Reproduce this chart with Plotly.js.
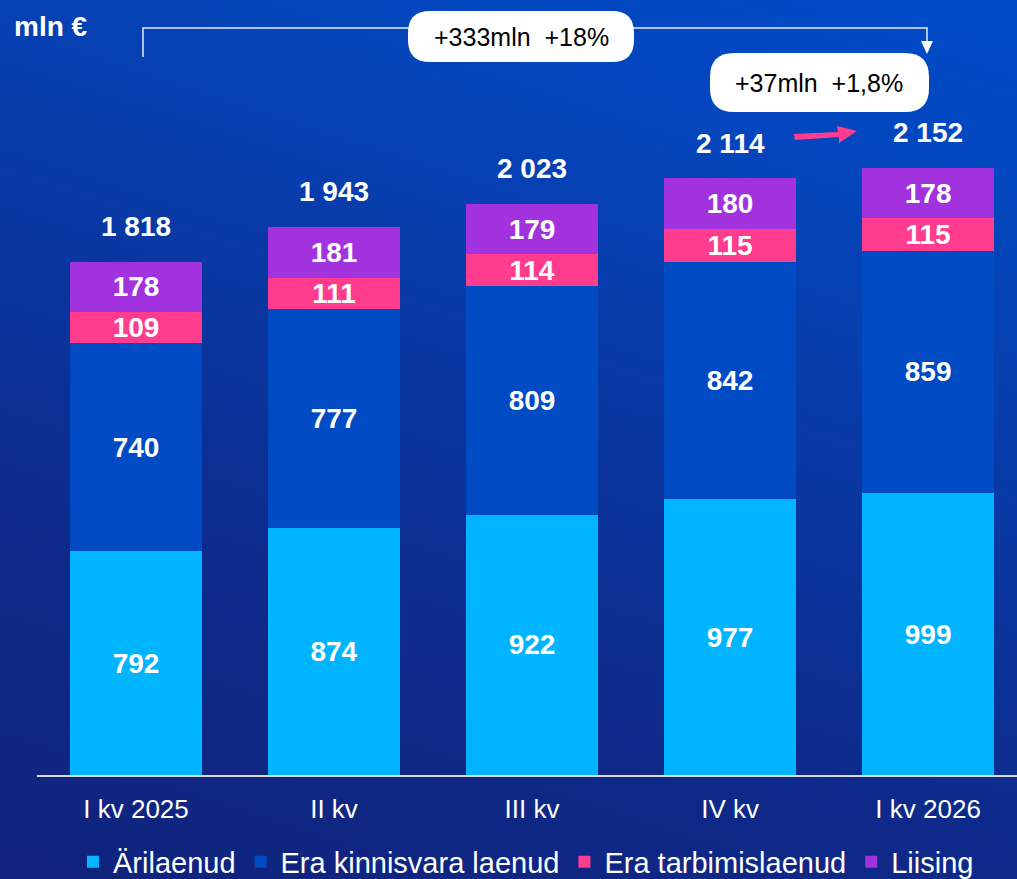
<!DOCTYPE html>
<html>
<head>
<meta charset="utf-8">
<script src="https://cdn.plot.ly/plotly-3.0.1.min.js"></script>
<style>
  html, body { margin: 0; padding: 0; }
  #wrap {
    width: 1017px; height: 879px; position: relative;
    background: linear-gradient(18deg, #10237c 0%, #0e2a8a 30%, #083aa6 60%, #0446bd 82%, #004bc9 100%);
  }
  #chart { width: 1017px; height: 879px; }
</style>
</head>
<body>
<div id="wrap"><div id="chart"></div></div>
<script>
// ---- data ----
const categories = ['I kv 2025', 'II kv', 'III kv', 'IV kv', 'I kv 2026'];
const arilaenud  = [792, 874, 922, 977, 999];
const kinnisvara = [740, 777, 809, 842, 859];
const tarbimis   = [109, 111, 114, 115, 115];
const liising    = [178, 181, 179, 180, 178];
const totals     = [1818, 1943, 2023, 2114, 2152];
const seriesNames = ['Ärilaenud', 'Era kinnisvara laenud', 'Era tarbimislaenud', 'Liising'];
const changeTotal = '+333mln  +18%';
const changeQuarter = '+37mln  +1,8%';
const unitLabel = 'mln €';

// ---- style ----
const FONT = 'Liberation Sans, Arial, sans-serif';
const colors = ['#00b4ff', '#004ac4', '#ff3c8e', '#a232de'];
const seriesValues = [arilaenud, kinnisvara, tarbimis, liising];

const W = 1017, H = 879, ML = 37, MR = 0, MT = 0, MB = 104;
const PW = W - ML - MR, PH = H - MT - MB;
const X = px => (px - ML) / PW;
const Y = py => (MT + PH - py) / PH;

const fmt = v => String(v).replace(/\B(?=(\d{3})+(?!\d))/g, ' ');

const traces = seriesValues.map((vals, i) => ({
  type: 'bar',
  name: seriesNames[i],
  x: categories,
  y: vals,
  marker: { color: colors[i], line: { width: 0 } },
  text: vals.map(String),
  textposition: 'inside',
  insidetextanchor: 'middle',
  constraintext: 'none',
  textangle: 0,
  textfont: { family: FONT, size: 28, color: '#ffffff', weight: 'bold' },
  hoverinfo: 'skip'
}));

function roundRect(x0, y0, x1, y1, r) {
  const p = (x, y) => X(x) + ',' + Y(y);
  return 'M' + p(x0 + r, y0) +
    ' L' + p(x1 - r, y0) + ' Q' + p(x1, y0) + ' ' + p(x1, y0 + r) +
    ' L' + p(x1, y1 - r) + ' Q' + p(x1, y1) + ' ' + p(x1 - r, y1) +
    ' L' + p(x0 + r, y1) + ' Q' + p(x0, y1) + ' ' + p(x0, y1 - r) +
    ' L' + p(x0, y0 + r) + ' Q' + p(x0, y0) + ' ' + p(x0 + r, y0) + ' Z';
}
const P = (x, y) => X(x) + ',' + Y(y);

const shapes = [
  { type: 'path', xref: 'paper', yref: 'paper',
    path: 'M' + P(143, 57) + ' L' + P(143, 28) + ' L' + P(927, 28) + ' L' + P(927, 44),
    line: { color: '#e6ebf5', width: 1.5 } },
  { type: 'path', xref: 'paper', yref: 'paper',
    path: 'M' + P(921, 41) + ' L' + P(933, 41) + ' L' + P(927, 54) + ' Z',
    fillcolor: '#ffffff', line: { width: 0 } },
  { type: 'path', xref: 'paper', yref: 'paper', path: roundRect(408, 11, 634, 62, 22),
    fillcolor: '#ffffff', line: { width: 0 } },
  { type: 'path', xref: 'paper', yref: 'paper', path: roundRect(710, 53, 929, 112, 24),
    fillcolor: '#ffffff', line: { width: 0 } },
  { type: 'path', xref: 'paper', yref: 'paper',
    path: 'M' + P(795, 140) + ' L' + P(839, 137) + ' L' + P(839, 143) + ' L' + P(857, 131) +
          ' L' + P(837, 126) + ' L' + P(838, 132) + ' L' + P(794, 134) + ' Z',
    fillcolor: '#ff3c8e', line: { width: 0 } }
];

const annotations = [];
totals.forEach((t, i) => {
  const stackTop = seriesValues.reduce((s, arr) => s + arr[i], 0);
  annotations.push({
    x: categories[i], y: stackTop, xref: 'x', yref: 'y',
    text: fmt(t), showarrow: false, yanchor: 'middle', yshift: 35,
    font: { family: FONT, size: 28, color: '#ffffff', weight: 'bold' }
  });
});
annotations.push({
  xref: 'paper', yref: 'paper', x: X(521), y: Y(37), text: changeTotal, showarrow: false,
  xanchor: 'center', yanchor: 'middle', font: { family: FONT, size: 25, color: '#000000' }
});
annotations.push({
  xref: 'paper', yref: 'paper', x: X(819), y: Y(83), text: changeQuarter, showarrow: false,
  xanchor: 'center', yanchor: 'middle', font: { family: FONT, size: 25, color: '#000000' }
});
annotations.push({
  xref: 'paper', yref: 'paper', x: X(12), y: Y(27), text: unitLabel, showarrow: false,
  xanchor: 'left', yanchor: 'middle', font: { family: FONT, size: 28, color: '#ffffff', weight: 'bold' }
});

const layout = {
  width: W, height: H,
  margin: { l: ML, r: MR, t: MT, b: MB, pad: 0, autoexpand: false },
  paper_bgcolor: 'rgba(0,0,0,0)',
  plot_bgcolor: 'rgba(0,0,0,0)',
  barmode: 'stack',
  bargap: 0.33,
  font: { family: FONT, color: '#ffffff' },
  uniformtext: { mode: 'show', minsize: 28 },
  xaxis: {
    range: [-0.5, 4.449], fixedrange: true, automargin: false,
    showline: true, linecolor: '#d9d9d9', linewidth: 2,
    showgrid: false, zeroline: false, ticks: '',
    tickfont: { family: FONT, size: 26, color: '#ffffff' },
    ticklabelstandoff: 10
  },
  yaxis: {
    range: [0, 2746], visible: false, showgrid: false, zeroline: false, fixedrange: true
  },
  showlegend: true,
  legend: {
    orientation: 'h', xref: 'container', yref: 'container',
    x: 73 / W, xanchor: 'left', y: (H - 862) / H, yanchor: 'middle',
    font: { family: FONT, size: 29, color: '#ffffff' },
    bgcolor: 'rgba(0,0,0,0)', borderwidth: 0, traceorder: 'normal',
    itemclick: false, itemdoubleclick: false
  },
  shapes: shapes,
  annotations: annotations
};

Plotly.newPlot('chart', traces, layout, { displayModeBar: false, staticPlot: true });
</script>
</body>
</html>
